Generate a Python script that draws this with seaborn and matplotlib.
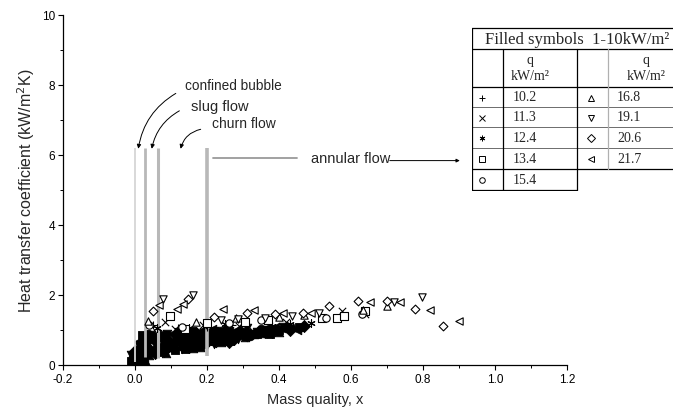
import matplotlib
matplotlib.use("Agg")
import matplotlib.pyplot as plt
import seaborn as sns
import numpy as np
import pandas as pd
from matplotlib.ticker import MultipleLocator, FuncFormatter

# ---------------- data ----------------
q_values = ["10.2", "11.3", "12.4", "13.4", "15.4", "16.8", "19.1", "20.6", "21.7"]

x_102 = [0.05, 0.12, 0.20, 0.27]
y_102 = [1.15, 1.05, 1.10, 1.15]
x_113 = [0.083, 0.11, 0.19, 0.29, 0.42, 0.575, 0.64]
y_113 = [1.23, 1.02, 1.15, 1.12, 1.23, 1.55, 1.45]
x_124 = [0.06, 0.15, 0.25, 0.38, 0.43, 0.49]
y_124 = [1.05, 1.05, 1.18, 1.11, 1.18, 1.20]
x_134 = [0.097, 0.14, 0.20, 0.305, 0.37, 0.52, 0.56, 0.58, 0.64]
y_134 = [1.40, 1.03, 1.20, 1.23, 1.30, 1.34, 1.34, 1.40, 1.55]
x_154 = [0.04, 0.13, 0.26, 0.35, 0.53, 0.63]
y_154 = [1.15, 1.10, 1.20, 1.28, 1.35, 1.45]
x_168 = [0.037, 0.17, 0.28, 0.40, 0.47, 0.633, 0.70]
y_168 = [1.26, 1.22, 1.35, 1.38, 1.42, 1.57, 1.68]
x_191 = [0.077, 0.162, 0.24, 0.285, 0.36, 0.436, 0.51, 0.72, 0.797]
y_191 = [1.89, 2.00, 1.30, 1.31, 1.34, 1.40, 1.49, 1.80, 1.94]
x_206 = [0.05, 0.148, 0.22, 0.31, 0.39, 0.467, 0.54, 0.62, 0.70, 0.778, 0.855]
y_206 = [1.55, 1.89, 1.37, 1.50, 1.46, 1.50, 1.69, 1.83, 1.83, 1.60, 1.11]
x_217 = [0.067, 0.116, 0.134, 0.245, 0.33, 0.41, 0.49, 0.653, 0.736, 0.82, 0.90]
y_217 = [1.71, 1.60, 1.74, 1.60, 1.57, 1.49, 1.50, 1.80, 1.80, 1.57, 1.26]

# filled symbols (1-10 kW/m2)
x_filled = [-0.01, -0.005, 0.0, 0.005, 0.01, 0.015, 0.02, 0.025, 0.005, 0.01, 0.015, 0.02,
            0.025, 0.03, 0.03, 0.035, 0.04, 0.045, 0.05, 0.05, 0.055, 0.06, 0.065, 0.07,
            0.075, 0.08, 0.085, 0.09, 0.095, 0.10, 0.10, 0.105, 0.11, 0.115, 0.12, 0.125,
            0.13, 0.135, 0.14, 0.145, 0.15, 0.155, 0.16, 0.165, 0.17, 0.175, 0.18, 0.185,
            0.19, 0.195, 0.20, 0.205, 0.21, 0.215, 0.22, 0.225, 0.23, 0.235, 0.24, 0.245,
            0.25, 0.255, 0.26, 0.27, 0.275, 0.28, 0.29, 0.30, 0.305, 0.31, 0.32, 0.33,
            0.34, 0.35, 0.355, 0.37, 0.38, 0.39, 0.40, 0.42, 0.44, 0.46, 0.47,
            0.0, 0.01, 0.02, 0.04, 0.06, 0.08, 0.12, 0.14, 0.16, 0.18, 0.22, 0.26,
            0.0, 0.01, 0.02, 0.03, -0.01, 0.0, 0.01, 0.02, 0.035, 0.04, 0.045, 0.055,
            0.06, 0.07, 0.08, 0.085, 0.09, 0.095, 0.105, 0.11, 0.115, 0.12, 0.13, 0.135,
            0.14, 0.15, 0.155, 0.16, 0.165, 0.17, 0.175, 0.18, 0.19, 0.195, 0.20, 0.21,
            0.215, 0.22, 0.23, 0.24, 0.245, 0.25, 0.26, 0.265, 0.27, 0.28, 0.285, 0.295,
            0.30, 0.31, 0.32, 0.33, 0.34, 0.36, 0.365, 0.375, 0.385, 0.40, 0.41, 0.43,
            0.45, 0.455]
y_filled = [0.12, 0.22, 0.30, 0.15, 0.25, 0.10, 0.20, 0.12, 0.45, 0.55, 0.40, 0.65,
            0.50, 0.78, 0.35, 0.60, 0.45, 0.70, 0.38, 0.82, 0.55, 0.65, 0.42, 0.75,
            0.50, 0.85, 0.60, 0.45, 0.70, 0.90, 0.55, 0.48, 0.78, 0.62, 0.92, 0.50,
            0.70, 0.85, 0.58, 0.95, 0.52, 0.75, 0.65, 0.98, 0.55, 0.85, 0.70, 1.00,
            0.60, 0.80, 0.95, 0.65, 0.75, 1.02, 0.68, 0.88, 0.72, 0.98, 0.80, 0.70,
            0.92, 1.05, 0.78, 0.88, 0.74, 1.00, 0.85, 0.95, 0.80, 1.05, 0.90, 0.98,
            0.88, 1.02, 0.92, 1.00, 0.95, 1.08, 1.00, 1.05, 1.10, 1.05, 1.12,
            0.20, 0.35, 0.30, 0.55, 0.48, 0.40, 0.62, 0.45, 0.58, 0.52, 0.60, 0.66,
            0.05, 0.08, 0.06, 0.10, 0.30, 0.40, 0.70, 0.85, 0.90, 0.30, 0.85, 0.35,
            0.88, 0.38, 0.60, 0.35, 0.88, 0.55, 0.65, 0.42, 0.85, 0.75, 0.45, 0.62,
            0.78, 0.88, 0.60, 0.48, 0.78, 0.92, 0.62, 0.55, 0.90, 0.68, 0.58, 0.90,
            0.62, 0.96, 0.82, 0.66, 0.90, 0.75, 0.98, 0.70, 0.80, 0.90, 0.75, 0.95,
            0.80, 0.88, 0.82, 0.88, 0.95, 0.95, 1.05, 0.90, 1.00, 0.95, 1.08, 1.00,
            1.00, 1.10]

regime_x = [0.0, 0.028, 0.064, 0.2]

series = [
    ("10.2", x_102, y_102, "+"),
    ("11.3", x_113, y_113, "x"),
    ("12.4", x_124, y_124, (6, 2, 0)),
    ("13.4", x_134, y_134, "s"),
    ("15.4", x_154, y_154, "o"),
    ("16.8", x_168, y_168, "^"),
    ("19.1", x_191, y_191, "v"),
    ("20.6", x_206, y_206, "D"),
    ("21.7", x_217, y_217, "<"),
]

# ---------------- figure ----------------
sns.set_theme(style="ticks")
plt.rcParams["font.family"] = ["Liberation Sans", "DejaVu Sans"]

W, H = 673, 410
fig = plt.figure(figsize=(W / 100, H / 100), dpi=100)
ax = fig.add_axes([63 / W, 1 - 366 / H, (567 - 63) / W, (366 - 16) / H])

# regime boundary lines (drawn over the filled cloud)
ax.vlines(regime_x[0], 0.1, 6.2, color="#d6d6d6", lw=1.3, zorder=4)
ax.vlines(regime_x[1], 0.22, 6.2, color="#b8b8b8", lw=2.0, zorder=4)
ax.vlines(regime_x[2], 0.2, 6.2, color="#b8b8b8", lw=2.2, zorder=4)
ax.vlines(regime_x[3], 0.25, 6.2, color="#b8b8b8", lw=2.6, zorder=4)

# filled symbols
filled_markers = ["s", "o", "^", "v", "D", "<"]
df_f = pd.DataFrame({"x": x_filled, "y": y_filled})
for i, m in enumerate(filled_markers):
    sub = df_f.iloc[i::len(filled_markers)]
    sns.scatterplot(data=sub, x="x", y="y", marker=m, s=38, color="black",
                    edgecolor="black", linewidth=0.6, ax=ax, legend=False, zorder=2)

# open symbols
for name, xs, ys, m in series:
    d = pd.DataFrame({"x": xs, "y": ys})
    mk = matplotlib.markers.MarkerStyle(m)
    if mk.is_filled():
        sns.scatterplot(data=d, x="x", y="y", marker=m, s=28 if m != "D" else 20,
                        color="black", facecolor="white", edgecolor="black",
                        linewidth=0.8, ax=ax, legend=False, zorder=5)
    else:
        sns.scatterplot(data=d, x="x", y="y", marker=m, s=28, color="black",
                        linewidth=0.8, ax=ax, legend=False, zorder=5)

ax.set_xlim(-0.2, 1.2)
ax.set_ylim(0, 10)
ax.xaxis.set_major_locator(MultipleLocator(0.2))
ax.xaxis.set_minor_locator(MultipleLocator(0.1))
ax.yaxis.set_major_locator(MultipleLocator(2))
ax.yaxis.set_minor_locator(MultipleLocator(1))
ax.xaxis.set_major_formatter(FuncFormatter(lambda v, p: f"{v:.1f}".replace("-0.0", "0.0")))
ax.yaxis.set_major_formatter(FuncFormatter(lambda v, p: f"{v:.0f}"))
sns.despine(ax=ax)
for sp in ["left", "bottom"]:
    ax.spines[sp].set_color("black")
    ax.spines[sp].set_linewidth(0.9)
ax.tick_params(which="major", direction="out", length=3.5, width=0.8, labelsize=8.5,
               colors="black", pad=2)
ax.tick_params(which="minor", direction="out", length=2, width=0.7, colors="black")
ax.set_xlabel("Mass quality, x", fontsize=10.5, labelpad=5)
ax.set_ylabel("Heat transfer coefficient (kW/m$^2$K)", fontsize=11.5, labelpad=4)

# annotations
arrow_kw = dict(arrowstyle="-|>", color="black", lw=0.7, mutation_scale=6)
ax.annotate("", xy=(0.008, 6.1), xytext=(0.12, 7.8),
            arrowprops=dict(connectionstyle="arc3,rad=0.25", **arrow_kw))
ax.text(0.14, 8.0, "confined bubble", fontsize=9.8, va="center", ha="left")
ax.annotate("", xy=(0.045, 6.1), xytext=(0.13, 7.3),
            arrowprops=dict(connectionstyle="arc3,rad=0.25", **arrow_kw))
ax.text(0.155, 7.4, "slug flow", fontsize=10.5, va="center", ha="left")
ax.annotate("", xy=(0.125, 6.1), xytext=(0.19, 6.75),
            arrowprops=dict(connectionstyle="arc3,rad=0.35", **arrow_kw))
ax.text(0.215, 6.9, "churn flow", fontsize=10, va="center", ha="left")
ax.plot([0.217, 0.45], [5.92, 5.92], color="#9a9a9a", lw=1.3)
ax.text(0.49, 5.92, "annular flow", fontsize=10.5, va="center", ha="left")
ax.annotate("", xy=(0.91, 5.84), xytext=(0.70, 5.84),
            arrowprops=dict(arrowstyle="-|>", color="black", lw=0.7, mutation_scale=5))

# ---------------- table ----------------
tx0, tx1, ty0, ty1 = 472, 673, 28, 192
tab = fig.add_axes([tx0 / W, 1 - ty1 / H, (tx1 - tx0) / W, (ty1 - ty0) / H])
tab.set_xlim(tx0, tx1)
tab.set_ylim(ty1, ty0)
tab.axis("off")
lc = "black"
lw = 0.9
tab.plot([472, 673], [29, 29], color=lc, lw=lw)
tab.plot([472, 673], [50, 50], color=lc, lw=lw)
tab.plot([472, 673], [88, 88], color=lc, lw=lw)
for yy in [108, 128, 149]:
    tab.plot([472, 673], [yy, yy], color="#555555", lw=0.6)
tab.plot([472, 673], [170, 170], color=lc, lw=lw)
tab.plot([472, 577], [191, 191], color=lc, lw=lw)
tab.plot([472, 472], [29, 191], color=lc, lw=lw)
tab.plot([503, 503], [50, 191], color=lc, lw=lw)
tab.plot([577, 577], [50, 191], color=lc, lw=lw)
tab.plot([608, 608], [50, 170], color="#b0b0b0", lw=lw)

serif = ["Liberation Serif", "DejaVu Serif"]
tab.text(577, 40, "Filled symbols  1-10kW/m²", family=serif, fontsize=12,
         ha="center", va="center")
for cx in [530, 646]:
    tab.text(cx, 61, "q", family=serif, fontsize=10, ha="center", va="center")
    tab.text(cx, 77, "kW/m²", family=serif, fontsize=10, ha="center", va="center")

row_y = [98, 118, 138.5, 159.5, 180.5]
for i, (name, xs, ys, m) in enumerate(series):
    if i < 5:
        sx, vx, yy = 482, 513, row_y[i]
    else:
        sx, vx, yy = 591, 617, row_y[i - 5]
    tab.plot([sx], [yy + 1], marker=m, ms=4, mfc="none", mec="black", mew=0.7,
             color="black", linestyle="none")
    tab.text(vx, yy, q_values[i], family=serif, fontsize=10, ha="left", va="center")

fig.savefig("out.png", dpi=100)
